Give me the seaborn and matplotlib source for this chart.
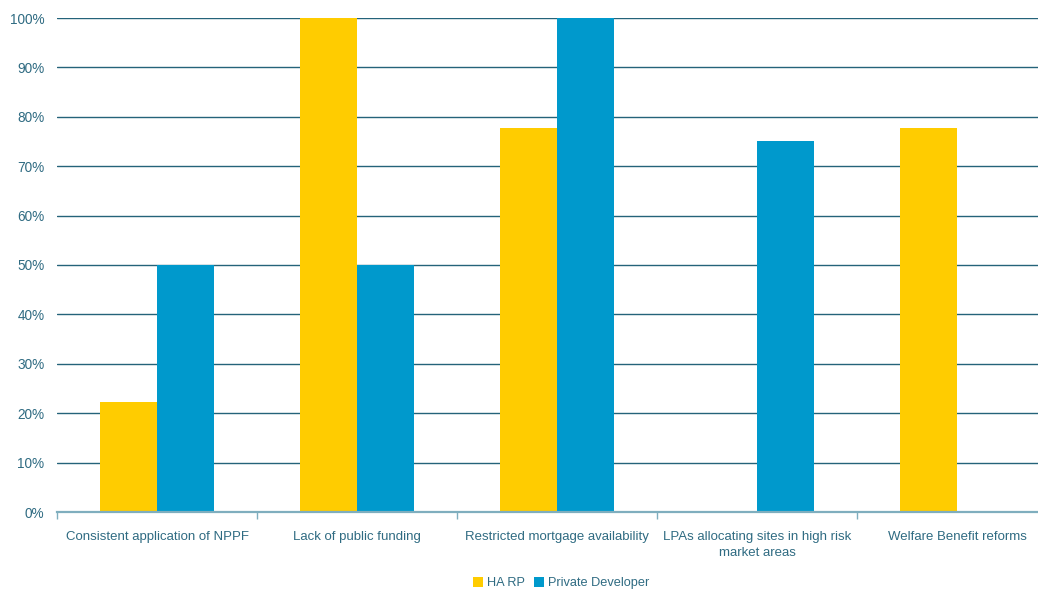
import matplotlib
matplotlib.use("Agg")
import matplotlib.pyplot as plt
import seaborn as sns
import pandas as pd
import numpy as np
from matplotlib.ticker import FixedLocator, PercentFormatter

categories = [
    "Consistent application of NPPF",
    "Lack of public funding",
    "Restricted mortgage availability",
    "LPAs allocating sites in high risk\nmarket areas",
    "Welfare Benefit reforms",
]
series = ["HA RP", "Private Developer"]
ha_rp = [22.2, 100.0, 77.8, 0.0, 77.8]
private_dev = [50.0, 50.0, 100.0, 75.0, 0.0]
colors = ["#FFCC00", "#0099CC"]

df = pd.DataFrame({
    "category": categories * 2,
    "group": [series[0]] * len(categories) + [series[1]] * len(categories),
    "value": ha_rp + private_dev,
})

text_color = "#2F6B82"
grid_color = "#24637A"
axis_color = "#7FAEBE"

sns.set_theme(style="white")
plt.rcParams["font.family"] = ["Liberation Sans", "DejaVu Sans"]

fig = plt.figure(figsize=(10.38, 5.92), dpi=100)
W, H = 1038, 592
ax = fig.add_axes([57 / W, 1 - 512 / H, (1038 - 57) / W, (512 - 18) / H])

sns.barplot(data=df, x="category", y="value", hue="group", order=categories,
            hue_order=series, palette=colors, width=0.57, saturation=1,
            edgecolor="none", linewidth=0, ax=ax, zorder=3)

ax.set_ylim(0, 100)
ax.set_xlim(-0.5, 4.5 - 19 / 200)
ax.yaxis.set_major_locator(FixedLocator(np.arange(0, 101, 10)))
ax.yaxis.set_major_formatter(PercentFormatter(decimals=0))
ax.grid(axis="y", color=grid_color, linewidth=1)
ax.set_axisbelow(True)

for side in ["top", "right", "left"]:
    ax.spines[side].set_visible(False)
ax.spines["bottom"].set_color(axis_color)
ax.spines["bottom"].set_linewidth(1.6)
ax.spines["bottom"].set_zorder(4)

ax.set_xlabel("")
ax.set_ylabel("")
ax.tick_params(axis="y", length=0, pad=9, labelsize=9.8, labelcolor=text_color)
ax.tick_params(axis="x", which="major", length=0, pad=13.5, labelsize=9.5,
               labelcolor=text_color)
ax.xaxis.set_minor_locator(FixedLocator(np.arange(-0.5, 5, 1)))
ax.tick_params(axis="x", which="minor", length=5, width=1, color=axis_color,
               direction="out", bottom=True)
for lbl in ax.get_xticklabels():
    lbl.set_linespacing(1.5)

leg = ax.legend(loc="lower center", bbox_to_anchor=((561 - 57) / (1038 - 57), -0.18),
                ncol=2, frameon=False, handlelength=0.8, handleheight=0.8,
                handletextpad=0.3, columnspacing=0.7, fontsize=9.2)
for t in leg.get_texts():
    t.set_color(text_color)

fig.savefig("out.png", dpi=100)
